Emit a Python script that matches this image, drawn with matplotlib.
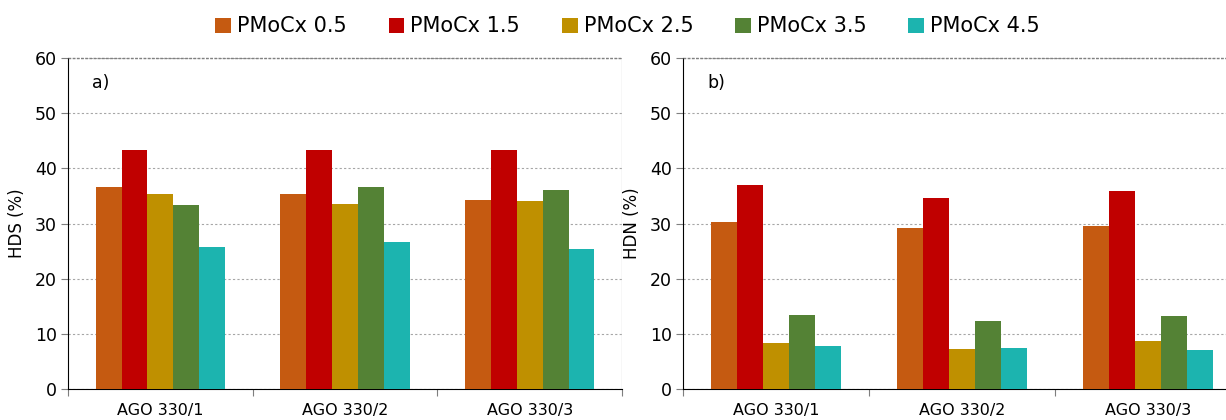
import matplotlib.pyplot as plt
import numpy as np
from matplotlib.patches import Patch

categories = ["AGO 330/1", "AGO 330/2", "AGO 330/3"]
series = ["PMoCx 0.5", "PMoCx 1.5", "PMoCx 2.5", "PMoCx 3.5", "PMoCx 4.5"]
colors = ["#C55A11", "#C00000", "#BF9000", "#548235", "#1CB4AF"]

# rows: series, cols: categories
hds = [
    [36.7, 35.3, 34.3],
    [43.3, 43.4, 43.3],
    [35.3, 33.5, 34.1],
    [33.3, 36.6, 36.0],
    [25.8, 26.7, 25.3],
]
hdn = [
    [30.3, 29.1, 29.5],
    [37.0, 34.7, 35.9],
    [8.3, 7.3, 8.7],
    [13.4, 12.3, 13.2],
    [7.8, 7.5, 7.0],
]

plt.rcParams['font.family'] = 'DejaVu Sans'

fig = plt.figure(figsize=(12.26, 4.2), dpi=100)
ax1 = fig.add_axes([0.0555, 0.0738, 0.4519, 0.788])
ax2 = fig.add_axes([0.5571, 0.0738, 0.455, 0.788])

bar_w = 0.14
x = np.arange(len(categories))


def draw(ax, data, ylabel, tag):
    for i, (vals, c) in enumerate(zip(data, colors)):
        ax.bar(x + (i - 2) * bar_w, vals, bar_w, color=c, edgecolor='none', zorder=3)
    ax.set_xlim(-0.5, len(categories) - 0.5)
    ax.set_ylim(0, 60)
    ax.set_yticks(range(0, 61, 10))
    ax.grid(axis='y', linestyle=(0, (2, 2)), color='#A6A6A6', linewidth=0.8, zorder=0)
    ax.set_xticks(np.arange(-0.5, len(categories), 1.0))
    ax.set_xticklabels([])
    ax.set_xticks(x, minor=True)
    ax.set_xticklabels(categories, minor=True, fontsize=11.5)
    ax.tick_params(axis='x', which='major', length=5, color='#7F7F7F')
    ax.tick_params(axis='x', which='minor', length=0, pad=10)
    ax.tick_params(axis='y', length=5, labelsize=12.5, pad=3, color='#7F7F7F')
    for s in ['top', 'right']:
        ax.spines[s].set_visible(False)
    ax.spines['left'].set_color('black')
    ax.spines['bottom'].set_color('black')
    ax.axhline(60, color='#808080', linestyle=(0, (2, 1)), linewidth=1.0, zorder=4, clip_on=False)
    ax.set_ylabel(ylabel, fontsize=12, labelpad=6)
    ax.text(0.043, 0.924, tag, transform=ax.transAxes, fontsize=12.5, va='center')


draw(ax1, hds, "HDS (%)", "a)")
draw(ax2, hdn, "HDN (%)", "b)")
ax1.axvline(len(categories) - 0.5, color='#7F7F7F', linewidth=0.8)

handles = [Patch(facecolor=c, edgecolor='none') for c in colors]
fig.legend(handles, series, loc='center', bbox_to_anchor=(0.512, 0.937), ncol=5,
           frameon=False, fontsize=15, handlelength=0.75, handleheight=0.75,
           handletextpad=0.3, columnspacing=2.0)

fig.savefig("out.png", dpi=100)
